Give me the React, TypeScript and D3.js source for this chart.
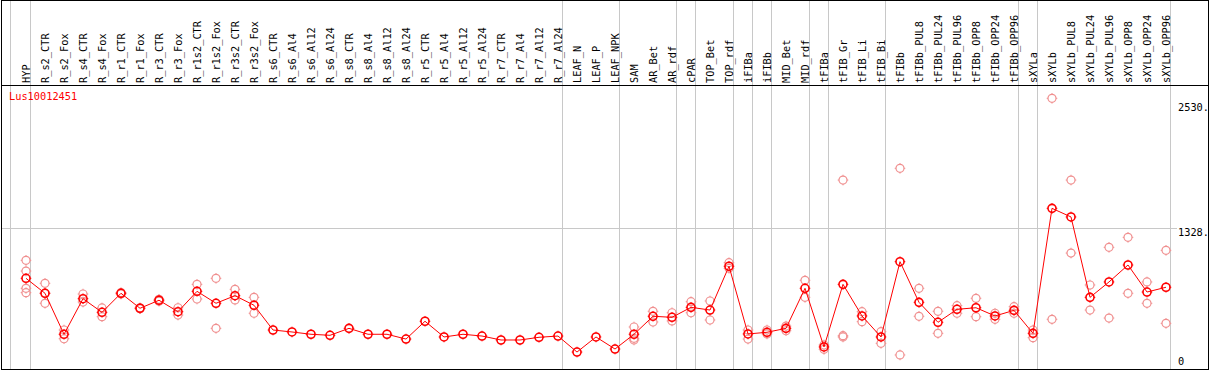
import React from "react";
import * as d3 from "d3";

const title = "Lus10012451";

const categories = [
  "HYP", "R_s2_CTR", "R_s2_Fox", "R_s4_CTR", "R_s4_Fox", "R_r1_CTR", "R_r1_Fox", "R_r3_CTR", "R_r3_Fox",
  "R_r1s2_CTR", "R_r1s2_Fox", "R_r3s2_CTR", "R_r3s2_Fox", "R_s6_CTR", "R_s6_Al4", "R_s6_Al12", "R_s6_Al24",
  "R_s8_CTR", "R_s8_Al4", "R_s8_Al12", "R_s8_Al24", "R_r5_CTR", "R_r5_Al4", "R_r5_Al12", "R_r5_Al24",
  "R_r7_CTR", "R_r7_Al4", "R_r7_Al12", "R_r7_Al24", "LEAF_N", "LEAF_P", "LEAF_NPK", "SAM", "AR_Bet", "AR_rdf",
  "cPAR", "TOP_Bet", "TOP_rdf", "iFIBa", "iFIBb", "MID_Bet", "MID_rdf", "tFIBa", "tFIB_Gr", "tFIB_Li", "tFIB_Bi",
  "tFIBb", "tFIBb_PUL8", "tFIBb_PUL24", "tFIBb_PUL96", "tFIBb_OPP8", "tFIBb_OPP24", "tFIBb_OPP96", "sXYLa",
  "sXYLb", "sXYLb_PUL8", "sXYLb_PUL24", "sXYLb_PUL96", "sXYLb_OPP8", "sXYLb_OPP24", "sXYLb_OPP96",
];

const means = [
  847, 703, 309, 651, 520, 703, 559, 636, 526, 722, 607, 680, 588, 350, 331, 309, 299, 366, 309, 309, 263,
  434, 283, 309, 292, 254, 254, 280, 292, 138, 283, 167, 309, 482, 472, 568, 542, 963, 312, 328, 366, 751,
  187, 789, 485, 283, 1007, 616, 424, 549, 564, 485, 539, 318, 1520, 1437, 664, 812, 975, 715, 761,
];

const replicates: number[][] = [
  [1020, 917, 751, 709], [799, 703, 607], [350, 266], [696, 619], [562, 478], [710, 696], [555, 563],
  [645, 627], [564, 494], [789, 648], [847, 366], [741, 639], [664, 511],
  [], [], [], [], [], [], [], [], [], [], [], [], [], [], [], [], [], [], [],
  [379, 270, 254], [530, 427], [516, 437], [622, 516], [629, 446], [997, 943], [350, 263], [350, 312],
  [343, 388], [828, 664], [164, 206], [1792, 295, 283], [526, 430], [334, 222], [1905, 110], [751, 482],
  [530, 318], [584, 511], [655, 478], [511, 453], [574, 511], [276, 350], [2578, 453], [1792, 1090],
  [783, 542], [1145, 465], [1241, 703], [812, 607], [1116, 414],
];

const groupEnds = [
  "HYP", "R_r7_Al24", "LEAF_NPK", "AR_rdf", "cPAR", "TOP_rdf", "iFIBa", "iFIBb", "MID_rdf", "tFIBa",
  "tFIB_Bi", "tFIBb_OPP96", "sXYLa", "sXYLb_OPP96",
];

const yTickValues = [2530, 1328, 0];
const yTickLabels = ["2530.", "1328.", "0"];
const gridValues = [1328];

const W = 1209;
const H = 370;
const FONT = "'DejaVu Sans Mono', monospace";

function Marker({ x, y, color, sw }: { x: number; y: number; color: string; sw: number }) {
  const r = 4;
  const t = 1.3;
  return (
    <g stroke={color} fill="none">
      <circle cx={x} cy={y} r={r} strokeWidth={sw} />
      <g strokeWidth={1}>
        <line x1={x} x2={x} y1={y - r - t} y2={y - r} />
        <line x1={x} x2={x} y1={y + r} y2={y + r + t} />
        <line x1={x - r - t} x2={x - r} y1={y} y2={y} />
        <line x1={x + r} x2={x + r + t} y1={y} y2={y} />
      </g>
    </g>
  );
}

export default function App() {
  const x = d3.scaleBand<string>().domain(categories).range([11, 1170]).paddingInner(0).paddingOuter(0);
  const bw = x.bandwidth();
  const px = (c: string) => (x(c) as number) + bw - 4;
  const y = d3.scaleLinear().domain([0, 1328]).range([366.4, 228.3]);

  const line = d3
    .line<number>()
    .x((_, i) => px(categories[i]))
    .y((d) => y(d));

  const sepXs = [10.5, ...groupEnds.map((c) => Math.round((x(c) as number) + bw) + 0.5)];

  return (
    <svg
      width={W}
      height={H}
      style={{ position: "absolute", left: 0, top: 0, background: "#fff" }}
      fontFamily={FONT}
    >
      <rect x={0} y={0} width={W} height={H} fill="#fff" />
      {sepXs.map((sx, i) => (
        <line key={"s" + i} x1={sx} x2={sx} y1={0} y2={369} stroke="#c8c8c8" strokeWidth={1} />
      ))}
      {gridValues.map((v) => (
        <line key={"g" + v} x1={1} x2={1177} y1={Math.round(y(v)) + 0.5} y2={Math.round(y(v)) + 0.5} stroke="#c8c8c8" strokeWidth={1} />
      ))}
      <line x1={1} x2={1209} y1={0.5} y2={0.5} stroke="#000" />
      <line x1={1} x2={1209} y1={85.5} y2={85.5} stroke="#000" />
      <line x1={1} x2={1209} y1={369.5} y2={369.5} stroke="#000" />
      <line x1={1.5} x2={1.5} y1={0} y2={370} stroke="#000" />
      <line x1={1208.5} x2={1208.5} y1={0} y2={370} stroke="#000" />

      {categories.map((c) => {
        const tx = (x(c) as number) + bw - 0.5;
        return (
          <text key={c} transform={`translate(${tx},83) rotate(-90)`} fontSize={10.3} fill="#000">
            {c}
          </text>
        );
      })}

      <text x={9} y={100} fontSize={10.3} fill="#ff0000">
        {title}
      </text>

      {yTickValues.map((v, i) => (
        <text key={"t" + v} x={1178} y={Math.min(y(v) + 7.5, 365)} fontSize={10.3} fill="#000">
          {yTickLabels[i]}
        </text>
      ))}

      {replicates.map((arr, i) =>
        arr.map((v, j) => <Marker key={`r${i}-${j}`} x={px(categories[i])} y={y(v)} color="#f09090" sw={1.2} />)
      )}

      <path d={line(means) || ""} fill="none" stroke="#ff0000" strokeWidth={1} />

      {means.map((v, i) => (
        <Marker key={"m" + i} x={px(categories[i])} y={y(v)} color="#ff0000" sw={1.6} />
      ))}
    </svg>
  );
}
